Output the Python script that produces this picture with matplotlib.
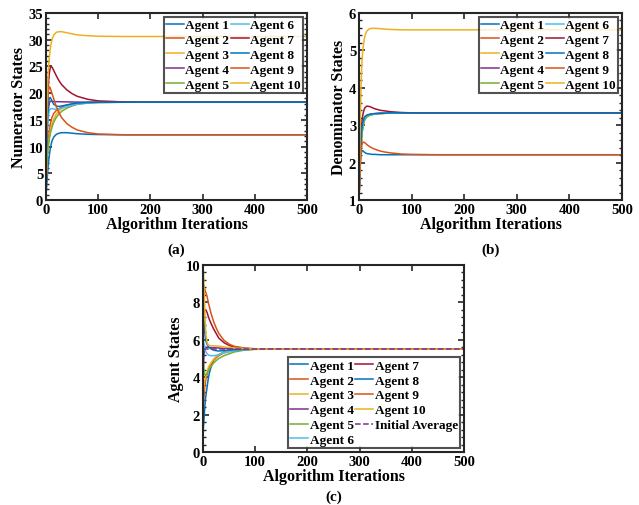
import matplotlib.pyplot as plt
from matplotlib.ticker import AutoMinorLocator

plt.rcParams['font.family'] = ['Liberation Serif', 'DejaVu Serif']
plt.rcParams['font.weight'] = 'bold'

iters = [0, 1, 2, 3, 4, 5, 6, 8, 10, 12, 15, 20, 25, 30, 40, 50, 60, 80, 100, 150, 200, 500]

agent_names = ['Agent %d' % (i + 1) for i in range(10)]

# (a) numerator states, one list per agent
numerator = [
    [1, 2.2, 3.6, 5, 6.2, 7.2, 8.1, 9.5, 10.5, 11.2, 11.8, 12.3, 12.5, 12.6, 12.6, 12.5, 12.4, 12.3, 12.25, 12.2, 12.2, 12.2],
    [2, 4.5, 7, 9, 10.5, 11.7, 12.6, 14.0, 15.0, 15.6, 16.2, 16.8, 17.1, 17.4, 17.75, 17.95, 18.1, 18.22, 18.28, 18.3, 18.3, 18.3],
    [3, 5, 7, 8.5, 9.7, 10.7, 11.5, 12.8, 13.7, 14.4, 15.2, 16.1, 16.7, 17.1, 17.6, 17.9, 18.05, 18.2, 18.27, 18.3, 18.3, 18.3],
    [4, 8, 11.5, 14, 16, 17.3, 18.0, 18.5, 18.5, 18.45, 18.4, 18.4, 18.4, 18.38, 18.36, 18.34, 18.32, 18.31, 18.3, 18.3, 18.3, 18.3],
    [5, 6.5, 7.8, 8.9, 9.8, 10.6, 11.2, 12.3, 13.1, 13.8, 14.6, 15.5, 16.1, 16.6, 17.2, 17.6, 17.9, 18.15, 18.25, 18.3, 18.3, 18.3],
    [6, 9, 11.5, 13.5, 15, 16, 16.6, 17.0, 17.1, 17.1, 17.0, 17.0, 17.05, 17.2, 17.5, 17.75, 17.95, 18.15, 18.25, 18.3, 18.3, 18.3],
    [7, 11, 15, 18, 20.5, 22.3, 23.5, 24.7, 25.0, 24.8, 24.2, 23.2, 22.3, 21.6, 20.6, 19.9, 19.4, 18.85, 18.55, 18.35, 18.3, 18.3],
    [8, 11, 13.5, 15.5, 17, 18.2, 18.9, 19.2, 18.9, 18.4, 17.9, 17.6, 17.5, 17.6, 17.8, 18.0, 18.15, 18.25, 18.3, 18.3, 18.3, 18.3],
    [9, 12.5, 15.5, 18, 19.8, 20.8, 21.2, 21.0, 20.4, 19.8, 18.9, 17.4, 16.3, 15.4, 14.3, 13.6, 13.1, 12.6, 12.35, 12.2, 12.2, 12.2],
    [10, 14, 18, 21, 23.2, 25, 26.3, 28.2, 29.4, 30.2, 30.9, 31.4, 31.5, 31.5, 31.3, 31.1, 30.9, 30.75, 30.65, 30.6, 30.6, 30.6],
]

# (b) denominator states
denominator = [
    [1, 1.5, 1.85, 2.08, 2.22, 2.29, 2.32, 2.31, 2.28, 2.26, 2.24, 2.23, 2.22, 2.22, 2.21, 2.21, 2.21, 2.21, 2.21, 2.21, 2.21, 2.21],
    [1, 1.45, 1.9, 2.25, 2.5, 2.7, 2.86, 3.04, 3.14, 3.2, 3.24, 3.27, 3.29, 3.3, 3.31, 3.32, 3.32, 3.33, 3.33, 3.33, 3.33, 3.33],
    [1, 1.4, 1.85, 2.2, 2.45, 2.65, 2.82, 3.0, 3.11, 3.18, 3.23, 3.27, 3.29, 3.3, 3.31, 3.32, 3.32, 3.33, 3.33, 3.33, 3.33, 3.33],
    [1, 1.55, 2.0, 2.35, 2.6, 2.8, 2.95, 3.1, 3.18, 3.23, 3.26, 3.29, 3.3, 3.31, 3.32, 3.32, 3.33, 3.33, 3.33, 3.33, 3.33, 3.33],
    [1, 1.4, 1.8, 2.15, 2.42, 2.63, 2.8, 2.98, 3.1, 3.17, 3.22, 3.26, 3.28, 3.3, 3.31, 3.32, 3.32, 3.33, 3.33, 3.33, 3.33, 3.33],
    [1, 1.5, 1.95, 2.3, 2.55, 2.75, 2.9, 3.07, 3.16, 3.21, 3.25, 3.28, 3.29, 3.3, 3.31, 3.32, 3.32, 3.33, 3.33, 3.33, 3.33, 3.33],
    [1, 1.6, 2.1, 2.5, 2.8, 3.0, 3.15, 3.33, 3.43, 3.48, 3.51, 3.5, 3.47, 3.44, 3.4, 3.38, 3.36, 3.34, 3.33, 3.33, 3.33, 3.33],
    [1, 1.6, 2.05, 2.4, 2.65, 2.85, 2.98, 3.12, 3.2, 3.24, 3.27, 3.29, 3.3, 3.31, 3.32, 3.32, 3.33, 3.33, 3.33, 3.33, 3.33, 3.33],
    [1, 1.5, 1.85, 2.1, 2.3, 2.42, 2.5, 2.55, 2.54, 2.52, 2.48, 2.43, 2.39, 2.36, 2.31, 2.28, 2.26, 2.23, 2.22, 2.21, 2.21, 2.21],
    [1, 1.8, 2.7, 3.5, 4.1, 4.5, 4.8, 5.1, 5.3, 5.42, 5.52, 5.58, 5.59, 5.59, 5.58, 5.57, 5.56, 5.55, 5.55, 5.55, 5.55, 5.55],
]

# (c) agent states
states = [
    [1, 1.4, 1.8, 2.2, 2.6, 2.9, 3.1, 3.5, 3.9, 4.2, 4.5, 4.9, 5.05, 5.2, 5.35, 5.42, 5.45, 5.48, 5.5, 5.5, 5.5, 5.5],
    [2, 2.5, 3.0, 3.35, 3.6, 3.8, 3.95, 4.15, 4.4, 4.55, 4.7, 4.9, 5.05, 5.15, 5.3, 5.37, 5.42, 5.47, 5.5, 5.5, 5.5, 5.5],
    [3, 3.3, 3.6, 3.8, 3.9, 4.0, 4.1, 4.25, 4.5, 4.62, 4.75, 4.95, 5.1, 5.2, 5.33, 5.4, 5.45, 5.48, 5.5, 5.5, 5.5, 5.5],
    [4, 4.6, 5.2, 5.5, 5.58, 5.6, 5.6, 5.6, 5.6, 5.59, 5.58, 5.58, 5.57, 5.56, 5.54, 5.53, 5.52, 5.51, 5.5, 5.5, 5.5, 5.5],
    [5, 4.7, 4.4, 4.2, 4.1, 4.1, 4.15, 4.2, 4.35, 4.45, 4.55, 4.75, 4.88, 5.0, 5.15, 5.25, 5.35, 5.45, 5.49, 5.5, 5.5, 5.5],
    [6, 5.9, 5.8, 5.65, 5.5, 5.4, 5.33, 5.25, 5.2, 5.17, 5.15, 5.15, 5.17, 5.2, 5.3, 5.36, 5.42, 5.47, 5.5, 5.5, 5.5, 5.5],
    [7, 7.3, 7.5, 7.6, 7.62, 7.6, 7.57, 7.45, 7.25, 7.1, 6.9, 6.6, 6.35, 6.1, 5.85, 5.7, 5.62, 5.54, 5.51, 5.5, 5.5, 5.5],
    [8, 7.4, 6.9, 6.5, 6.2, 6.0, 5.9, 5.75, 5.65, 5.58, 5.52, 5.45, 5.42, 5.4, 5.42, 5.45, 5.47, 5.49, 5.5, 5.5, 5.5, 5.5],
    [9, 8.95, 8.85, 8.75, 8.65, 8.55, 8.48, 8.3, 8.0, 7.8, 7.45, 7.0, 6.65, 6.35, 5.98, 5.77, 5.65, 5.56, 5.52, 5.5, 5.5, 5.5],
    [10, 9.5, 8.8, 8.0, 7.2, 6.6, 6.2, 5.85, 5.72, 5.7, 5.68, 5.68, 5.67, 5.66, 5.62, 5.58, 5.56, 5.53, 5.51, 5.5, 5.5, 5.5],
]

initial_average = 5.5

# MATLAB default colour order
colors = ['#0072BD', '#D95319', '#EDB120', '#7E2F8E', '#77AC30',
          '#4DBEEE', '#A2142F', '#0072BD', '#D95319', '#EDB120']

fig = plt.figure(figsize=(6.39, 5.06), dpi=100)
W, H = 639.0, 506.0


def make_axes(left, top, right, bottom):
    return fig.add_axes([left / W, 1 - bottom / H, (right - left) / W, (bottom - top) / H])


def style(ax, ylim, yticks, ylabel):
    ax.set_xlim(0, 500)
    ax.set_ylim(*ylim)
    ax.set_xticks([0, 100, 200, 300, 400, 500])
    ax.set_yticks(yticks)
    ax.yaxis.set_minor_locator(AutoMinorLocator(5))
    ax.tick_params(direction='in', top=True, right=True, labelsize=10.5, pad=2,
                   width=1.2, length=4, colors='#262626', labelcolor='black')
    ax.tick_params(which='minor', direction='in', right=True, left=True,
                   width=1.0, length=2, colors='#262626')
    for s in ax.spines.values():
        s.set_linewidth(1.5)
        s.set_color('#262626')
    for lab in ax.get_xticklabels() + ax.get_yticklabels():
        lab.set_fontweight('bold')
    ax.set_xlabel('Algorithm Iterations', fontsize=11.5, fontweight='bold', labelpad=0)
    ax.set_ylabel(ylabel, fontsize=11.5, fontweight='bold', labelpad=1)


def add_legend(ax, loc):
    leg = ax.legend(loc=loc, ncol=2, fontsize=9.5, frameon=True, fancybox=False,
                    handlelength=1.4, handletextpad=0.1, columnspacing=0.1,
                    labelspacing=0.2, borderpad=0.15, borderaxespad=0.3)
    leg.get_frame().set_edgecolor('#262626')
    leg.get_frame().set_linewidth(1.5)
    for t in leg.get_texts():
        t.set_fontweight('bold')
    return leg


# (a)
ax1 = make_axes(46, 14, 307, 201)
for i in range(10):
    ax1.plot(iters, numerator[i], color=colors[i], lw=1.1, label=agent_names[i])
style(ax1, (0, 35), [0, 5, 10, 15, 20, 25, 30, 35], 'Numerator States')
add_legend(ax1, 'upper right')
ax1.text(0.5, -0.225, '(a)', transform=ax1.transAxes, ha='center', va='top',
         fontsize=11, fontweight='bold')

# (b)
ax2 = make_axes(359, 14, 622, 201)
for i in range(10):
    ax2.plot(iters, denominator[i], color=colors[i], lw=1.1, label=agent_names[i])
style(ax2, (1, 6), [1, 2, 3, 4, 5, 6], 'Denominator States')
add_legend(ax2, 'upper right')
ax2.text(0.5, -0.225, '(b)', transform=ax2.transAxes, ha='center', va='top',
         fontsize=11, fontweight='bold')

# (c)
ax3 = make_axes(203, 266, 464, 453)
for i in range(10):
    ax3.plot(iters, states[i], color=colors[i], lw=1.1, label=agent_names[i])
ax3.plot([0, 500], [initial_average, initial_average], color='#7E2F8E', lw=1.1,
         ls='--', label='Initial Average')
style(ax3, (0, 10), [0, 2, 4, 6, 8, 10], 'Agent States')
add_legend(ax3, 'lower right')
ax3.text(0.5, -0.275, '(c)', transform=ax3.transAxes, ha='center', va='bottom',
         fontsize=11, fontweight='bold')

fig.savefig('out.png', dpi=100)
